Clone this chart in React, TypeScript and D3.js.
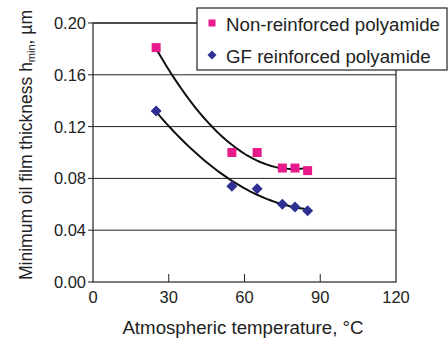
import React, { useEffect, useRef } from 'react';
import * as d3 from 'd3';

const temps = [25, 55, 65, 75, 80, 85];
const nonReinforced = [0.181, 0.1, 0.1, 0.088, 0.088, 0.086];
const gfReinforced = [0.132, 0.074, 0.072, 0.06, 0.058, 0.055];
const xTicks = [0, 30, 60, 90, 120];
const yTicks = [0, 0.04, 0.08, 0.12, 0.16, 0.2];

// 2nd order least squares fit, like a spreadsheet trendline
function polyFit(xs: number[], ys: number[]) {
  const n = xs.length;
  let s1 = 0, s2 = 0, s3 = 0, s4 = 0, t0 = 0, t1 = 0, t2 = 0;
  for (let i = 0; i < n; i++) {
    const x = xs[i], y = ys[i];
    s1 += x; s2 += x * x; s3 += x ** 3; s4 += x ** 4;
    t0 += y; t1 += x * y; t2 += x * x * y;
  }
  const m = [[n, s1, s2, t0], [s1, s2, s3, t1], [s2, s3, s4, t2]];
  for (let c = 0; c < 3; c++) {
    for (let r = c + 1; r < 3; r++) {
      const f = m[r][c] / m[c][c];
      for (let k = c; k < 4; k++) m[r][k] -= f * m[c][k];
    }
  }
  const b = [0, 0, 0];
  for (let r = 2; r >= 0; r--) {
    let s = m[r][3];
    for (let k = r + 1; k < 3; k++) s -= m[r][k] * b[k];
    b[r] = s / m[r][r];
  }
  return (x: number) => b[0] + b[1] * x + b[2] * x * x;
}

const App: React.FC = () => {
  const svgRef = useRef<SVGSVGElement | null>(null);

  useEffect(() => {
    const svg = d3.select(svgRef.current);
    svg.selectAll('*').remove();
    const font = 'Arial, "Liberation Sans", sans-serif';

    const x = d3.scaleLinear().domain([0, 120]).range([93, 396]);
    const y = d3.scaleLinear().domain([0, 0.2]).range([282, 23]);

    // grid lines
    svg.append('g')
      .selectAll('line')
      .data(yTicks.filter(d => d > 0))
      .join('line')
      .attr('x1', x(0)).attr('x2', x(120))
      .attr('y1', d => y(d)).attr('y2', d => y(d))
      .attr('stroke', '#222').attr('stroke-width', 1);

    // frame
    svg.append('rect')
      .attr('x', x(0)).attr('y', y(0.2))
      .attr('width', x(120) - x(0)).attr('height', y(0) - y(0.2))
      .attr('fill', 'none').attr('stroke', '#222').attr('stroke-width', 1.2);

    // y ticks + labels
    const yg = svg.append('g');
    yg.selectAll('line').data(yTicks).join('line')
      .attr('x1', x(0) - 5).attr('x2', x(0))
      .attr('y1', d => y(d)).attr('y2', d => y(d))
      .attr('stroke', '#222');
    yg.selectAll('text').data(yTicks).join('text')
      .attr('x', x(0) - 7).attr('y', d => y(d) + 6)
      .attr('text-anchor', 'end')
      .attr('font-family', font).attr('font-size', 16.5).attr('fill', '#222')
      .text(d => d3.format('.2f')(d));

    // x ticks + labels
    const xg = svg.append('g');
    xg.selectAll('line').data(xTicks.slice(1, -1)).join('line')
      .attr('x1', d => x(d)).attr('x2', d => x(d))
      .attr('y1', y(0)).attr('y2', y(0) - 8)
      .attr('stroke', '#222');
    xg.selectAll('text').data(xTicks).join('text')
      .attr('x', d => x(d)).attr('y', y(0) + 21)
      .attr('text-anchor', 'middle')
      .attr('font-family', font).attr('font-size', 16.5).attr('fill', '#222')
      .text(d => d);

    // axis titles
    svg.append('text')
      .attr('x', 243).attr('y', 334)
      .attr('text-anchor', 'middle')
      .attr('font-family', font).attr('font-size', 18.7).attr('fill', '#222')
      .text('Atmospheric temperature, °C');

    const yt = svg.append('text')
      .attr('transform', 'translate(32,145) rotate(-90)')
      .attr('text-anchor', 'middle')
      .attr('font-family', font).attr('font-size', 17.5).attr('fill', '#222');
    yt.append('tspan').text('Minimum oil film thickness h');
    yt.append('tspan').attr('font-size', 11).attr('dy', 3).text('min');
    yt.append('tspan').attr('dy', -3).text(', µm');

    // trendlines
    [nonReinforced, gfReinforced].forEach(vals => {
      const f = polyFit(temps, vals);
      const xs = d3.range(25, 85.01, 1);
      svg.append('path')
        .attr('d', d3.line<number>().x(d => x(d)).y(d => y(f(d)))(xs))
        .attr('fill', 'none').attr('stroke', '#111').attr('stroke-width', 2);
    });

    // markers
    const mg = svg.append('g');
    temps.forEach((t, i) => {
      mg.append('rect').attr('x', x(t) - 4.5).attr('y', y(nonReinforced[i]) - 4.5)
        .attr('width', 9).attr('height', 9).attr('fill', '#e8198b');
    });
    temps.forEach((t, i) => {
      const cx = x(t), cy = y(gfReinforced[i]), r = 5.5;
      mg.append('path')
        .attr('d', `M${cx},${cy - r}L${cx + r},${cy}L${cx},${cy + r}L${cx - r},${cy}Z`)
        .attr('fill', '#2e3192');
    });

    // legend
    const lg = svg.append('g');
    lg.append('rect').attr('x', 197).attr('y', 8).attr('width', 250).attr('height', 62)
      .attr('fill', 'white').attr('stroke', '#222').attr('stroke-width', 1.2);
    lg.append('rect').attr('x', 208.5).attr('y', 19.5).attr('width', 7).attr('height', 7).attr('fill', '#e8198b');
    lg.append('path').attr('d', 'M212,50.5L216.5,55L212,59.5L207.5,55Z').attr('fill', '#2e3192');
    lg.append('text').attr('x', 226).attr('y', 30.5)
      .attr('font-family', font).attr('font-size', 18.7).attr('fill', '#222')
      .text('Non-reinforced polyamide');
    lg.append('text').attr('x', 226).attr('y', 62.5)
      .attr('font-family', font).attr('font-size', 18.7).attr('fill', '#222')
      .text('GF reinforced polyamide');
  }, []);

  return (
    <svg ref={svgRef} width={448} height={340}
      style={{ position: 'absolute', left: 0, top: 0, background: 'white' }} />
  );
};

export default App;
